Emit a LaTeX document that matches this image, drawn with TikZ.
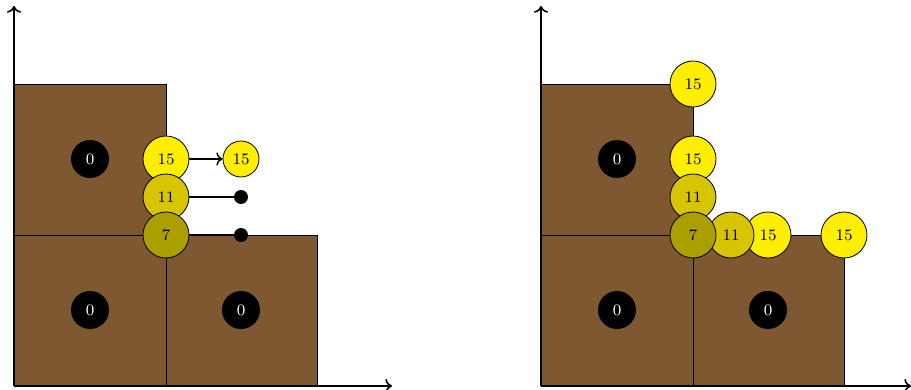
\documentclass[tikz,border=0pt]{standalone}
\usetikzlibrary{arrows.meta}
\definecolor{dirt}{RGB}{126,88,48}
\definecolor{yA}{RGB}{255,238,0}
\definecolor{yB}{RGB}{214,197,0}
\definecolor{yC}{RGB}{171,159,0}
\begin{document}
\begin{tikzpicture}[x=0.5pt,y=-0.5pt,
  cell/.style={fill=dirt,draw=black,line width=0.4pt},
  axis/.style={line width=0.8pt,->},
  zero/.style={circle,fill=black,text=white,minimum size=19pt,inner sep=0pt,font=\footnotesize},
  ball/.style={circle,draw=black,line width=0.4pt,minimum size=23pt,inner sep=0pt,font=\footnotesize},
  smallball/.style={circle,draw=black,line width=0.4pt,fill=yA,minimum size=18pt,inner sep=0pt,font=\footnotesize},
  dot/.style={circle,fill=black,minimum size=7pt,inner sep=0pt},
  link/.style={line width=0.7pt}]
\useasboundingbox (0,0) rectangle (911,390);
% ---------- left panel ----------
\draw[cell] (14,235) rectangle (166,386);
\draw[cell] (166,235) rectangle (317,386);
\draw[cell] (14,84) rectangle (166,235);
\coordinate (oL) at (14,386);
\coordinate (yL) at (14,6);
\coordinate (xL) at (392,386);
\draw[axis] (oL) -- (yL);
\draw[axis] (oL) -- (xL);
\node[zero] (zL1) at (90,159) {0};
\node[zero] (zL2) at (90,310) {0};
\node[zero] (zL3) at (241,310) {0};
\node[ball,fill=yA] (bL15) at (166,159) {15};
\node[ball,fill=yB] (bL11) at (166,197) {11};
\node[ball,fill=yC] (bL7) at (166,235) {7};
\node[smallball] (sL15) at (241,159) {15};
\node[dot] (dL11) at (241,197) {};
\node[dot] (dL7) at (241,235) {};
\draw[link,->] (bL15) -- (sL15);
\draw[link] (bL11) -- (dL11);
\draw[link] (bL7) -- (dL7);
% ---------- right panel ----------
\draw[cell] (541,235) rectangle (693,386);
\draw[cell] (693,235) rectangle (844,386);
\draw[cell] (541,84) rectangle (693,235);
\coordinate (oR) at (541,386);
\coordinate (yR) at (541,6);
\coordinate (xR) at (911,386);
\draw[axis] (oR) -- (yR);
\draw[axis] (oR) -- (xR);
\node[zero] (zR1) at (617,159) {0};
\node[zero] (zR2) at (617,310) {0};
\node[zero] (zR3) at (768,310) {0};
\node[ball,fill=yA] (bR15a) at (693,84) {15};
\node[ball,fill=yA] (bR15b) at (693,159) {15};
\node[ball,fill=yA] (bR15c) at (768,235) {15};
\node[ball,fill=yA] (bR15d) at (844,235) {15};
\node[ball,fill=yB] (bR11a) at (693,197) {11};
\node[ball,fill=yB] (bR11b) at (731,235) {11};
\node[ball,fill=yC] (bR7) at (693,235) {7};
\end{tikzpicture}
\end{document}
